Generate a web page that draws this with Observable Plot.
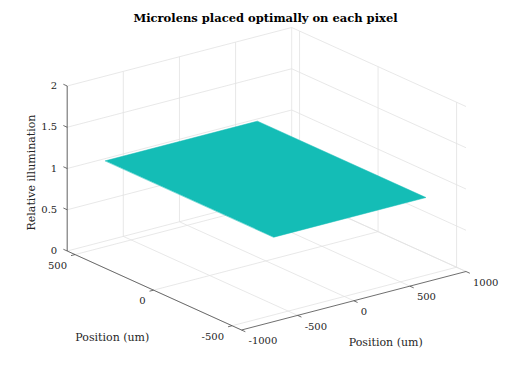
<!DOCTYPE html>
<html><head><meta charset="utf-8">
<script src="https://cdn.jsdelivr.net/npm/d3@7"></script>
<script src="https://cdn.jsdelivr.net/npm/@observablehq/plot@0.6"></script>
<style>html,body{margin:0;padding:0;background:#fff;} svg{display:block}</style>
</head><body><div id="chart"></div>
<script>
// ---- data ----
const title = "Microlens placed optimally on each pixel";
const xLabel = "Position (um)";
const yLabel = "Position (um)";
const zLabel = "Relative illumination";
const xLim = [-1000, 1000];
const yLim = [-560, 550];
const zLim = [0, 2];
const xTicks = [-1000, -500, 0, 500, 1000];
const yTicks = [-500, 0, 500];
const zTicks = [0, 0.5, 1, 1.5, 2];
const xTickLabels = ["-1000", "-500", "0", "500", "1000"];
const yTickLabels = ["-500", "0", "500"];
const zTickLabels = ["0", "0.5", "1", "1.5", "2"];
const surfX = [-688, 667];
const surfY = [-543, 530];
const surfZ = [[1, 1], [1, 1]];

// ---- camera (orthographic) ----
const W = 512, H = 369;
const corner = [241, 329.5];          // front-bottom corner of the box
const edgeX = [224.5, -58.5], edgeY = [-174.3, -79], edgeZ = [0, -165];
function proj(x, y, z) {
  const u = (x - xLim[0]) / (xLim[1] - xLim[0]);
  const v = (y - yLim[0]) / (yLim[1] - yLim[0]);
  const w = (z - zLim[0]) / (zLim[1] - zLim[0]);
  return [corner[0] + u * edgeX[0] + v * edgeY[0] + w * edgeZ[0],
          corner[1] + u * edgeX[1] + v * edgeY[1] + w * edgeZ[1]];
}
function seg(a, b) { const p = proj(...a), q = proj(...b); return {x1: p[0], y1: p[1], x2: q[0], y2: q[1]}; }
function pt(a, extra) { const p = proj(...a); return Object.assign({x: p[0], y: p[1]}, extra); }

const [x0, x1] = xLim, [y0, y1] = yLim, [z0, z1] = zLim;
const grid = [];
for (const z of zTicks) { grid.push(seg([x0, y1, z], [x1, y1, z])); grid.push(seg([x1, y1, z], [x1, y0, z])); }
for (const x of xTicks) { grid.push(seg([x, y1, z0], [x, y1, z1])); grid.push(seg([x, y0, z0], [x, y1, z0])); }
for (const y of yTicks) { grid.push(seg([x1, y, z0], [x1, y, z1])); grid.push(seg([x0, y, z0], [x1, y, z0])); }

const axes = [
  seg([x0, y0, z0], [x1, y0, z0]),
  seg([x0, y0, z0], [x0, y1, z0]),
  seg([x0, y1, z0], [x0, y1, z1])
];
const tx = (yLim[1] - yLim[0]) * 0.022, ty = (xLim[1] - xLim[0]) * 0.018, tz = (yLim[1] - yLim[0]) * 0.022;
const ticks = [
  ...xTicks.map(x => seg([x, y0, z0], [x, y0 - tx, z0])),
  ...yTicks.map(y => seg([x0, y, z0], [x0 - ty, y, z0])),
  ...zTicks.map(z => seg([x0, y1, z], [x0, y1 + tz, z]))
];

const surface = [
  pt([surfX[0], surfY[0], surfZ[0][0]]),
  pt([surfX[1], surfY[0], surfZ[0][1]]),
  pt([surfX[1], surfY[1], surfZ[1][1]]),
  pt([surfX[0], surfY[1], surfZ[1][0]])
];

const xTickText = xTicks.map((x, i) => pt([x, y0, z0], {t: xTickLabels[i]}));
const yTickText = yTicks.map((y, i) => pt([x0, y, z0], {t: yTickLabels[i]}));
const zTickText = zTicks.map((z, i) => pt([x0, y1, z], {t: zTickLabels[i]}));

const font = "DejaVu Serif";
const chart = Plot.plot({
  width: W, height: H, margin: 0,
  style: {fontFamily: font, background: "#fff"},
  x: {domain: [0, W], range: [0, W], axis: null},
  y: {domain: [0, H], range: [0, H], axis: null},
  marks: [
    Plot.link(grid, {x1: "x1", y1: "y1", x2: "x2", y2: "y2", stroke: "#e2e2e2", strokeWidth: 0.8}),
    Plot.line(surface, {x: "x", y: "y", fill: "#14bdb6", stroke: "#14bdb6", strokeWidth: 0.5, curve: "linear-closed"}),
    Plot.link(axes, {x1: "x1", y1: "y1", x2: "x2", y2: "y2", stroke: "#4a4a4a", strokeWidth: 0.8}),
    Plot.link(ticks, {x1: "x1", y1: "y1", x2: "x2", y2: "y2", stroke: "#4a4a4a", strokeWidth: 0.8}),
    Plot.text(xTickText, {x: "x", y: "y", text: "t", textAnchor: "start", dx: 7, dy: 11, fontSize: 10, fill: "#262626"}),
    Plot.text(yTickText, {x: "x", y: "y", text: "t", textAnchor: "end", dx: -8, dy: 11, fontSize: 10, fill: "#262626"}),
    Plot.text(zTickText, {x: "x", y: "y", text: "t", textAnchor: "end", dx: -10, dy: 0, fontSize: 10, fill: "#262626"}),
    Plot.text([zLabel], {x: () => proj(x0, y1, (z0 + z1) / 2)[0], y: () => proj(x0, y1, (z0 + z1) / 2)[1], text: d => d, rotate: -90, dx: -36, dy: 4, fontSize: 11, fill: "#262626"}),
    Plot.text([yLabel], {x: () => proj(x0, (y0 + y1) / 2, z0)[0], y: () => proj(x0, (y0 + y1) / 2, z0)[1], text: d => d, dx: -42, dy: 47, fontSize: 11, fill: "#262626"}),
    Plot.text([xLabel], {x: () => proj((x0 + x1) / 2, y0, z0)[0], y: () => proj((x0 + x1) / 2, y0, z0)[1], text: d => d, dx: 32, dy: 42, fontSize: 11, fill: "#262626"}),
    Plot.text([title], {frameAnchor: "top", lineAnchor: "middle", dx: 9, dy: 18, fontSize: 11.5, fontWeight: "bold", fill: "#000"})
  ]
});
document.getElementById("chart").append(chart);
</script>
</body></html>
